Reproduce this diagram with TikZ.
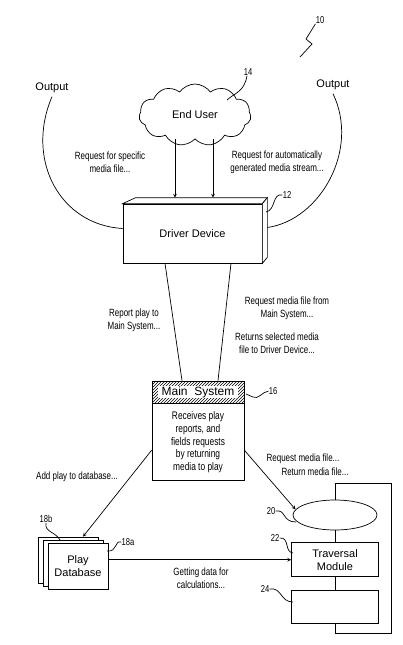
\documentclass[tikz,border=0pt]{standalone}
\usepackage{fontspec}
\setmainfont{Liberation Sans}
\newfontfamily\narrowsf{Liberation Sans}[FakeStretch=0.76]
\usetikzlibrary{positioning,shapes.symbols,shapes.geometric,patterns,calc}

\begin{document}
\begin{tikzpicture}[x=1pt,y=-1pt,>=stealth,line width=0.7pt,node distance=13pt]
\tikzstyle{every node}=[font=\fontsize{11}{13}\selectfont]
\tikzstyle{lbl}=[font=\narrowsf\fontsize{10.5}{12.8}\selectfont,align=center,inner sep=0pt]
\tikzstyle{num}=[font=\narrowsf\fontsize{10}{10}\selectfont,inner sep=0pt]
\tikzstyle{box}=[draw,fill=white,rectangle,align=center,inner sep=2pt]
\useasboundingbox (0,0) rectangle (402,645);

% ----- end user and driver device
\node (outL) at (52,88) {Output};
\node (outR) at (333,85) {Output};
\node[cloud,draw,fill=white,cloud puffs=11,cloud puff arc=110,aspect=1.9,
      minimum width=112pt,minimum height=62pt] (cloud) at (195,115) {End User};
\node[box,minimum width=139pt,minimum height=59pt] (drv) at (192.5,233.5) {Driver Device};
\draw[fill=white] (drv.north west) -- ++(13,-6) -- ($(drv.north east)+(5,-6)$) -- (drv.north east) -- cycle;
\draw[fill=white] (drv.north east) -- ++(5,-6) -- ($(drv.south east)+(5,-6)$) -- (drv.south east) -- cycle;
\coordinate (drvtop) at ($(drv.north)+(0,-6)$);

\draw[->] ([xshift=-20pt]cloud.south) -- ([xshift=-20pt]cloud.south |- drvtop);
\draw[->] ([xshift=18pt]cloud.south) -- ([xshift=18pt]cloud.south |- drvtop);
\draw (outL.south) .. controls (25,160) and (60,225) .. ([yshift=5pt]drv.west);
\draw (outR.south) .. controls (360,150) and (320,220) .. ($(drv.east)+(5,-6)$);

\node[lbl] (reqspec) at (110,162) {Request for specific\\media file...};
\node[lbl] (reqauto) at (277,162) {Request for automatically\\generated media stream...};

% ----- main system
\node[draw,pattern=north east lines,minimum width=92pt,minimum height=22pt,inner sep=0pt] (mainhd) at (198,392) {};
\node[fill=white,minimum width=80pt,minimum height=11pt,inner sep=0pt,
      font=\fontsize{12}{14}\selectfont] (mainttl) at (mainhd) {Main\ \ System};
\node[box,minimum width=92pt,minimum height=77pt,below=0pt of mainhd,
      font=\narrowsf\fontsize{11}{12.7}\selectfont] (main)
      {Receives play\\reports, and\\fields requests\\by returning\\media to play};

\draw ([xshift=-27.5pt]drv.south) -- ([xshift=-16pt]mainhd.north);
\draw ([xshift=38.5pt]drv.south) -- ([xshift=20pt]mainhd.north);
\node[lbl] (rptplay) at (134,320) {Report play to\\Main System...};
\node[lbl] (reqfrom) at (287,308) {Request media file from\\Main System...};
\node[lbl] (retsel) at (277,343) {Returns selected media\\file to Driver Device...};

% ----- media side
\node[draw,minimum width=56pt,minimum height=150pt,inner sep=0pt] (cont) at (363,558) {};
\node[draw,ellipse,fill=white,minimum width=84pt,minimum height=30pt] (ell) at (335,515) {};
\node[box,minimum width=87pt,minimum height=34pt,below=12pt of ell] (trav) {Traversal\\Module};
\node[box,minimum width=87pt,minimum height=33pt,below=13pt of trav] (blank) {};
\draw (ell.south) -- (ell.south |- trav.north);
\draw (trav.south) -- (trav.south |- blank.north);

% ----- play database
\node[box,minimum width=60pt,minimum height=46pt] (db3) at (68,560) {};
\node[box,minimum width=60pt,minimum height=46pt] (db2) at (73,563) {};
\node[box,minimum width=60pt,minimum height=46pt] (db) at (78,566) {Play\\Database};

\draw[->] ([yshift=-8pt]main.west) -- ([xshift=15pt]db3.north);
\draw[->] ([yshift=-8pt]main.east) -- (ell.172);
\draw[->] (db.east |- trav.west) -- (trav.west);
\node[lbl] (addplay) at (77,477) {Add play to database...};
\node[lbl] (reqmed) at (303,459) {Request media file...};
\node[lbl] (retmed) at (315,472) {Return media file...};
\node[lbl] (getdata) at (201,578) {Getting data for\\calculations...};

% ----- reference numerals
\node[num] (n10) at (320,20) {10};
\draw (300,57) -- (312,44) -- (306,39) -- (n10.south west);
\node[num] (n14) at (248,72) {14};
\draw ([xshift=-1pt]n14.south) .. controls (244,92) and (236,92) .. (227,100);
\node[num] (n12) at (287,195) {12};
\draw (n12.west) .. controls (272,193) and (276,210) .. (266,212);
\node[num] (n16) at (273,391) {16};
\draw (n16.west) .. controls (262,392) and (258,400) .. (253,397) .. controls (250,395) .. (246,394);
\node[num] (n18b) at (46,519) {18b};
\draw (n18b.south) .. controls (44,532) and (56,532) .. (60,540);
\node[num] (n18a) at (128,542) {18a};
\draw (n18a.west) .. controls (114,540) and (118,552) .. (107,551);
\node[num] (n20) at (271,511) {20};
\draw (n20.east) .. controls (286,509) and (282,522) .. (296,522);
\node[num] (n22) at (275,538) {22};
\draw (n22.east) .. controls (290,537) and (284,552) .. (293,553);
\node[num] (n24) at (265,589) {24};
\draw (n24.east) .. controls (282,587) and (280,602) .. (293,602);
\end{tikzpicture}
\end{document}
